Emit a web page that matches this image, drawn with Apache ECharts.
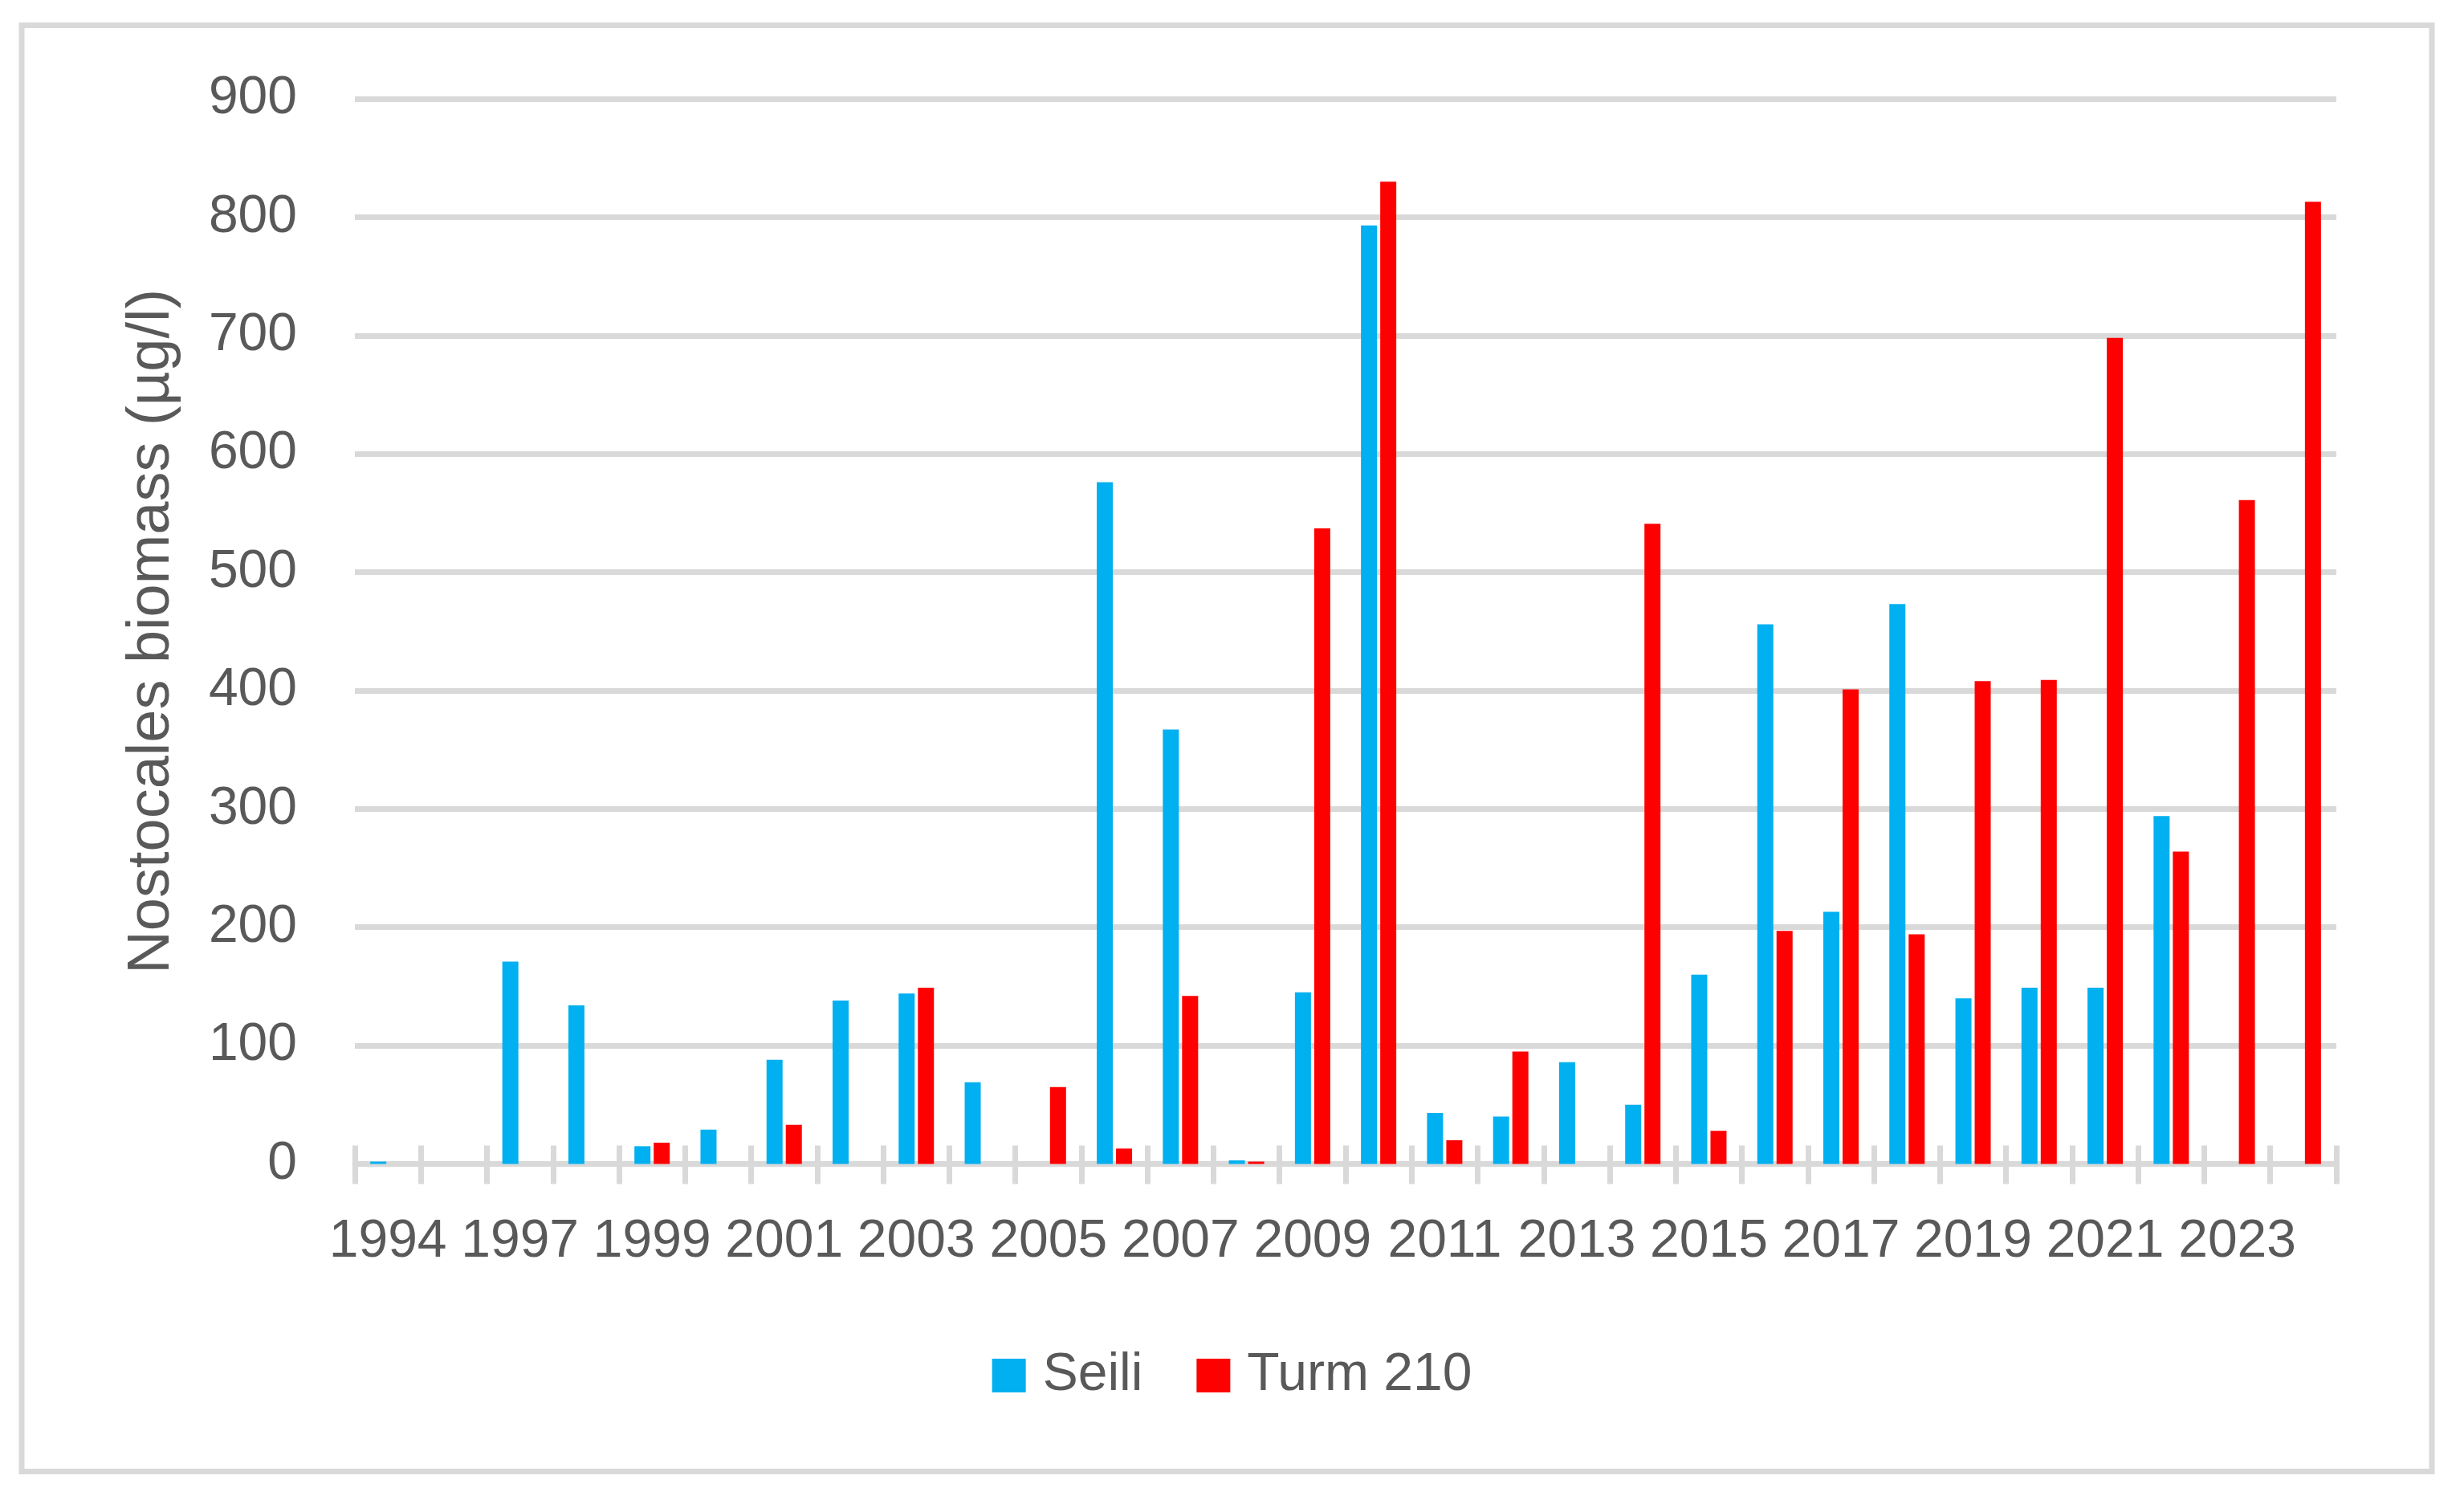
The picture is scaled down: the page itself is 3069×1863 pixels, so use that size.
<!DOCTYPE html>
<html>
<head>
<meta charset="utf-8">
<script src="https://cdn.jsdelivr.net/npm/echarts@6/dist/echarts.min.js"></script>
<style>
  html, body { margin: 0; padding: 0; background: #ffffff; }
  #chart { width: 3069px; height: 1863px; }
</style>
</head>
<body>
<div id="chart"></div>
<script>
// ---- data ----
const years = ['1994','1996','1997','1998','1999','2000','2001','2002','2003','2004','2005','2006','2007','2008','2009','2010','2011','2012','2013','2014','2015','2016','2017','2018','2019','2020','2021','2022','2023','2024'];
const seili = [2, null, 171, 134, 15, 29, 88, 138, 144, 69, null, 576, 367, 3, 145, 793, 43, 40, 86, 50, 160, 456, 213, 473, 140, 149, 149, 294, null, null];
const turm210 = [null, null, null, null, 18, null, 33, null, 149, null, 65, 13, 142, 2, 537, 830, 20, 95, null, 541, 28, 197, 401, 194, 408, 409, 698, 264, 561, 813];
const seriesNames = ['Seili', 'Turm 210'];
const yTicks = { min: 0, max: 900, interval: 100 };
const yTitle = 'Nostocales biomass (µg/l)';

const FONT = "'Liberation Sans', Arial, sans-serif";
const TXT = '#595959';
const GRID = '#d9d9d9';

const chart = echarts.init(document.getElementById('chart'), null, { renderer: 'canvas' });
chart.setOption({
  backgroundColor: '#ffffff',
  animation: false,
  textStyle: { fontFamily: FONT, color: TXT },
  graphic: [{
    type: 'rect',
    shape: { x: 27, y: 31.5, width: 3002, height: 1801 },
    style: { fill: 'none', stroke: GRID, lineWidth: 7 },
    silent: true, z: -10
  }],
  grid: { left: 442, right: 159, top: 123, bottom: 413.5, containLabel: false },
  legend: {
    data: seriesNames,
    left: 'center',
    top: 1675,
    itemWidth: 42,
    itemHeight: 42,
    itemGap: 67,
    icon: 'rect',
    textStyle: { fontFamily: FONT, fontSize: 66, color: TXT, padding: [0, 0, 0, 16], lineHeight: 42 }
  },
  xAxis: [{
    type: 'category',
    data: years,
    position: 'bottom',
    boundaryGap: true,
    axisLine: { show: true, lineStyle: { color: GRID, width: 7 } },
    axisTick: { show: true, interval: 0, length: 25, lineStyle: { color: GRID, width: 7 } },
    axisLabel: { interval: 1, margin: 64, fontSize: 66, color: TXT, fontFamily: FONT },
    splitLine: { show: false }
  }, {
    type: 'category',
    data: years,
    position: 'bottom',
    gridIndex: 0,
    boundaryGap: true,
    axisLine: { show: false },
    axisTick: { show: true, inside: true, interval: 0, length: 23, lineStyle: { color: GRID, width: 7 } },
    axisLabel: { show: false },
    splitLine: { show: false }
  }],
  yAxis: {
    type: 'value',
    min: yTicks.min,
    max: yTicks.max,
    interval: yTicks.interval,
    name: yTitle,
    nameLocation: 'middle',
    nameGap: 215,
    nameTextStyle: { fontSize: 74, color: TXT, fontFamily: FONT },
    axisLine: { show: false },
    axisTick: { show: false },
    axisLabel: { margin: 72, fontSize: 66, color: TXT, fontFamily: FONT },
    splitLine: { show: true, lineStyle: { color: GRID, width: 7 } }
  },
  series: [{
    name: seriesNames[0],
    type: 'bar',
    xAxisIndex: 0,
    data: seili,
    barWidth: 20,
    barGap: '20%',
    itemStyle: { color: '#00B0F0' }
  }, {
    name: seriesNames[1],
    type: 'bar',
    xAxisIndex: 0,
    data: turm210,
    barWidth: 20,
    barGap: '20%',
    itemStyle: { color: '#FF0000' }
  }]
});
</script>
</body>
</html>
